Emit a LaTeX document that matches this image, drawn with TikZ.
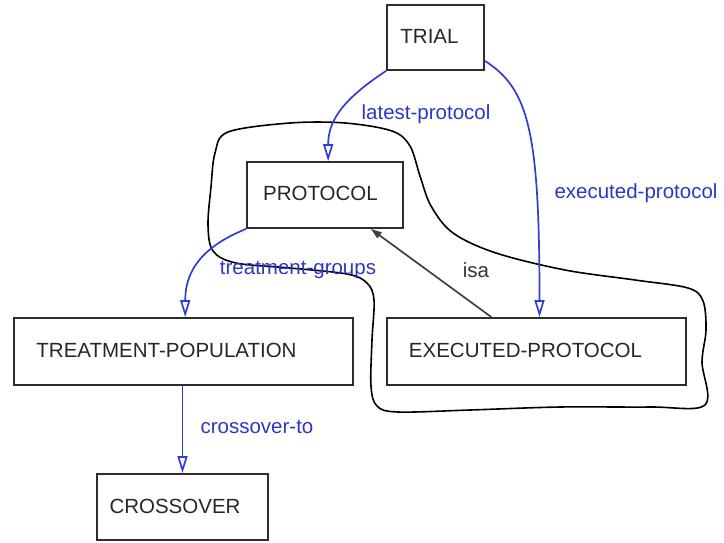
\documentclass[tikz,border=0pt]{standalone}
\usepackage{fontspec}
\setmainfont{Liberation Sans}
\usetikzlibrary{arrows.meta,calc}
\definecolor{eblue}{RGB}{50,60,215}
\definecolor{lblue}{RGB}{45,55,195}
\definecolor{boxline}{RGB}{45,45,45}
\begin{document}
\begin{tikzpicture}[x=1pt,y=-1pt,
  every node/.style={font=\fontsize{20.5}{24}\selectfont},
  box/.style={draw=boxline,line width=1.8pt,minimum width=#1,inner sep=0pt},
  boxtext/.style={text=black!85,inner sep=0pt},
  rel/.style={draw=eblue,line width=1.7pt,-{Triangle[open,length=17pt,width=10pt]}},
  rellabel/.style={text=lblue,inner sep=0pt},
  isarrow/.style={draw=black!75,line width=1.7pt,-{Triangle[length=11pt,width=7pt]}},
  sketch/.style={draw=black,line width=1.6pt}
]
\useasboundingbox (0,0) rectangle (724,542);
% boxes
\node[box=97pt,minimum height=65pt] (trial) at (435.5,37.5) {};
\node[box=156pt,minimum height=66pt] (protocol) at (325,195) {};
\node[box=339pt,minimum height=67pt] (treat) at (183.5,351.5) {};
\node[box=299pt,minimum height=67pt] (exec) at (536.5,351.5) {};
\node[box=171pt,minimum height=66pt] (cross) at (182.5,507) {};
% box texts
\node[boxtext] (trialT) at (429.5,36) {TRIAL};
\node[boxtext] (protocolT) at (320.5,193) {PROTOCOL};
\node[boxtext] (treatT) at (166.5,350) {TREATMENT-POPULATION};
\node[boxtext] (execT) at (525.5,350) {EXECUTED-PROTOCOL};
\node[boxtext] (crossT) at (175,506) {CROSSOVER};
% freehand outline
\draw[sketch] plot[smooth cycle,tension=0.55] coordinates {
 (228,132) (290,123) (345,123) (392,131) (410,146) (420,176) (431,206)
 (453,233) (496,253) (565,270) (635,280) (688,288) (703,301) (706,330)
 (702,362) (705,405) (650,407) (560,407) (470,410) (398,412) (377,406)
 (371,386) (372,340) (374,300) (367,283) (347,274) (290,268) (236,263)
 (213,251) (208,225) (211,187) (215,153)};
% relations
\draw[rel] (trial.south west) .. controls +(-41,27) and +(0,-42) ..
  ($(protocol.north west)!0.52!(protocol.north east)$);
\draw[rel] ($(trial.north east)!0.85!(trial.south east)$) .. controls +(44,28) and +(0,-185) ..
  ($(exec.north west)!0.51!(exec.north east)$);
\draw[rel] (protocol.south west) .. controls +(-42,17) and +(0,-48) ..
  ($(treat.north west)!0.505!(treat.north east)$);
\draw[rel] (cross.north |- treat.south) -- (cross.north);
\draw[isarrow] ($(exec.north west)!0.35!(exec.north east)$) --
  ($(protocol.south west)!0.79!(protocol.south east)$);
% labels
\node[rellabel] (l1) at (426,114) {latest-protocol};
\node[rellabel] (l2) at (636,193) {executed-protocol};
\node[rellabel] (l3) at (298,270) {treatment-groups};
\node[text=black!80,inner sep=0pt] (l4) at (476,270) {isa};
\node[rellabel] (l5) at (257,427) {crossover-to};
\end{tikzpicture}
\end{document}
